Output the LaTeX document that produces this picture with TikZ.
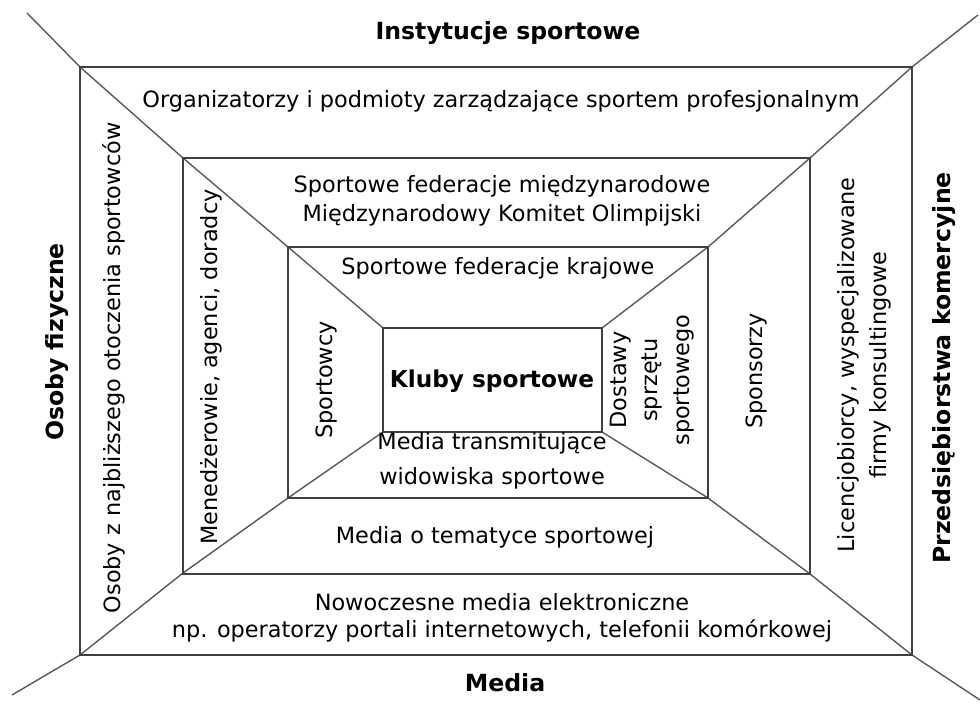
\documentclass[tikz,border=0pt]{standalone}
\usepackage{fontspec}
\setmainfont{DejaVu Sans}
\usetikzlibrary{positioning}

\begin{document}
\begin{tikzpicture}[x=0.5pt,y=-0.5pt,
    frame/.style={draw=black!75,line width=1.1pt},
    diag/.style={draw=black!65,line width=0.7pt},
    lbl/.style={align=center,font=\fontsize{11.2}{14.5}\selectfont,inner sep=0pt},
    head/.style={align=center,font=\fontsize{11.8}{14}\selectfont\bfseries,inner sep=0pt}]
        \useasboundingbox (0,0) rectangle (980,704);
        % diagonals
        \draw[diag] (27,13) -- (80,67) -- (183,158) -- (288,247) -- (383,328);
        \draw[diag] (978,15) -- (912,67) -- (810,158) -- (708,247) -- (602,328);
        \draw[diag] (12,695) -- (80,655) -- (183,573) -- (288,498) -- (383,432);
        \draw[diag] (980,700) -- (912,655) -- (810,574) -- (708,498) -- (602,432);
        % frames
        \draw[frame] (80,67) rectangle (912,655);
        \draw[frame] (183,158) rectangle (810,574);
        \draw[frame] (288,247) rectangle (708,498);
        \draw[frame] (383,328) rectangle (602,432);
        % groups
        \node[head] (inst) at (508,33) {Instytucje sportowe};
        \node[head] (media) at (505,683) {Media};
        \node[head,rotate=90] (osoby) at (57,342) {Osoby fizyczne};
        \node[head,rotate=90] (przed) at (944,368) {Przedsiębiorstwa komercyjne};
        % top
        \node[lbl] (org) at (501,101) {Organizatorzy i podmioty zarządzające sportem profesjonalnym};
        \node[lbl] (fed) at (502,201) {Sportowe federacje międzynarodowe\\Międzynarodowy Komitet Olimpijski};
        \node[lbl] (kraj) at (498,268) {Sportowe federacje krajowe};
        \node[lbl,font=\fontsize{11.6}{14}\selectfont\bfseries] (kluby) at (492,381) {Kluby sportowe};
        % bottom
        \node[lbl,font=\fontsize{11.2}{17.5}\selectfont] (transm) at (492,461) {Media transmitujące\\widowiska sportowe};
        \node[lbl] (temat) at (495,537) {Media o tematyce sportowej};
        \node[lbl,font=\fontsize{11.2}{13.5}\selectfont] (nowo) at (502,618) {Nowoczesne media elektroniczne\\np. operatorzy portali internetowych, telefonii komórkowej};
        % left
        \node[lbl,rotate=90] (otocz) at (114,368) {Osoby z najbliższego otoczenia sportowców};
        \node[lbl,rotate=90] (menedz) at (211,367) {Menedżerowie, agenci, doradcy};
        \node[lbl,rotate=90] (sportowcy) at (327,380) {Sportowcy};
        % right
        \node[lbl,rotate=90,font=\fontsize{11.2}{15.8}\selectfont] (dostawy) at (652,380) {Dostawy\\sprzętu\\sportowego};
        \node[lbl,rotate=90] (spons) at (757,371) {Sponsorzy};
        \node[lbl,rotate=90,font=\fontsize{11.2}{16}\selectfont] (licenc) at (864,365) {Licencjobiorcy, wyspecjalizowane\\firmy konsultingowe};
\end{tikzpicture}
\end{document}
